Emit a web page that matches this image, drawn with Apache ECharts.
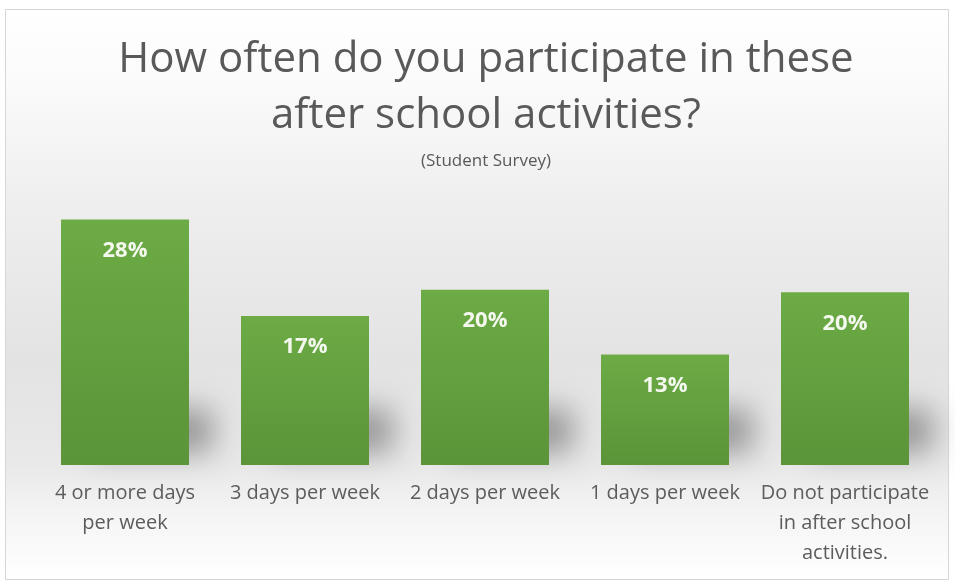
<!DOCTYPE html>
<html>
<head>
<meta charset="utf-8">
<script src="https://cdn.jsdelivr.net/npm/echarts@6/dist/echarts.min.js"></script>
<style>
html,body{margin:0;padding:0;background:#ffffff;}
#chart{width:955px;height:581px;}
</style>
</head>
<body>
<div id="chart"></div>
<script>
const titleText = "How often do you participate in these\nafter school activities?";
const subtitleText = "(Student Survey)";
const categories = [
  "4 or more days\nper week",
  "3 days per week",
  "2 days per week",
  "1 days per week",
  "Do not participate\nin after school\nactivities."
];
const values = [28, 17, 20, 12.6, 19.7];

const chart = echarts.init(document.getElementById('chart'), null, {renderer: 'canvas'});

const BAR_W = 128;

const option = {
  animation: false,
  backgroundColor: '#ffffff',
  graphic: [{
    type: 'rect',
    z: -10,
    silent: true,
    shape: {x: 5.5, y: 9.5, width: 943, height: 570},
    style: {
      fill: {
        type: 'linear', x: 0, y: 0, x2: 0, y2: 1,
        colorStops: [
          {offset: 0, color: '#ffffff'},
          {offset: 0.12, color: '#fbfbfb'},
          {offset: 0.35, color: '#eeeeee'},
          {offset: 0.62, color: '#e3e3e3'},
          {offset: 0.8, color: '#e9e9e9'},
          {offset: 0.9, color: '#f6f6f6'},
          {offset: 1, color: '#ffffff'}
        ]
      },
      stroke: '#d6d6d6',
      lineWidth: 1
    }
  }],
  title: [{
    text: titleText,
    left: 486,
    textAlign: 'center',
    top: 32,
    padding: 0,
    textStyle: {
      fontFamily: 'Open Sans',
      fontSize: 42,
      fontWeight: 'normal',
      color: '#595959',
      lineHeight: 56
    }
  }, {
    text: subtitleText,
    left: 486,
    textAlign: 'center',
    top: 152,
    padding: 0,
    textStyle: {
      fontFamily: 'Open Sans',
      fontSize: 17,
      fontWeight: 'normal',
      color: '#595959',
      lineHeight: 18
    }
  }],
  grid: {left: 35, right: 20, top: 202, bottom: 116, containLabel: false},
  xAxis: {
    type: 'category',
    data: categories,
    axisLine: {show: false},
    axisTick: {show: false},
    axisLabel: {
      interval: 0,
      margin: 13,
      fontFamily: 'Open Sans',
      fontSize: 20,
      color: '#5c5c5c',
      lineHeight: 30,
      align: 'center'
    }
  },
  yAxis: {
    type: 'value',
    min: 0,
    max: 30,
    show: false,
    splitLine: {show: false}
  },
  series: [{
    type: 'custom',
    z: 1,
    silent: true,
    data: values.map((v, i) => [i, v]),
    renderItem: function (params, api) {
      const p = api.coord([api.value(0), 0]);
      return {
        type: 'rect',
        shape: {x: p[0] - BAR_W / 2 + 4, y: p[1] - 56, width: BAR_W - 8, height: 44},
        style: {
          fill: '#5a9539',
          shadowBlur: 30,
          shadowOffsetX: 28,
          shadowOffsetY: 0,
          shadowColor: 'rgba(0,0,0,0.35)'
        }
      };
    }
  }, {
    type: 'bar',
    z: 2,
    data: values,
    barWidth: BAR_W,
    itemStyle: {
      color: {
        type: 'linear', x: 0, y: 0, x2: 0, y2: 1,
        colorStops: [
          {offset: 0, color: '#6cab45'},
          {offset: 1, color: '#5a9539'}
        ]
      }
    },
    label: {
      show: true,
      position: 'insideTop',
      distance: 20,
      formatter: function (p) { return Math.round(p.value) + '%'; },
      fontFamily: 'Open Sans',
      fontWeight: 'bold',
      fontSize: 22,
      color: '#f4f8ee',
      lineHeight: 22
    }
  }]
};

chart.setOption(option);
</script>
</body>
</html>
